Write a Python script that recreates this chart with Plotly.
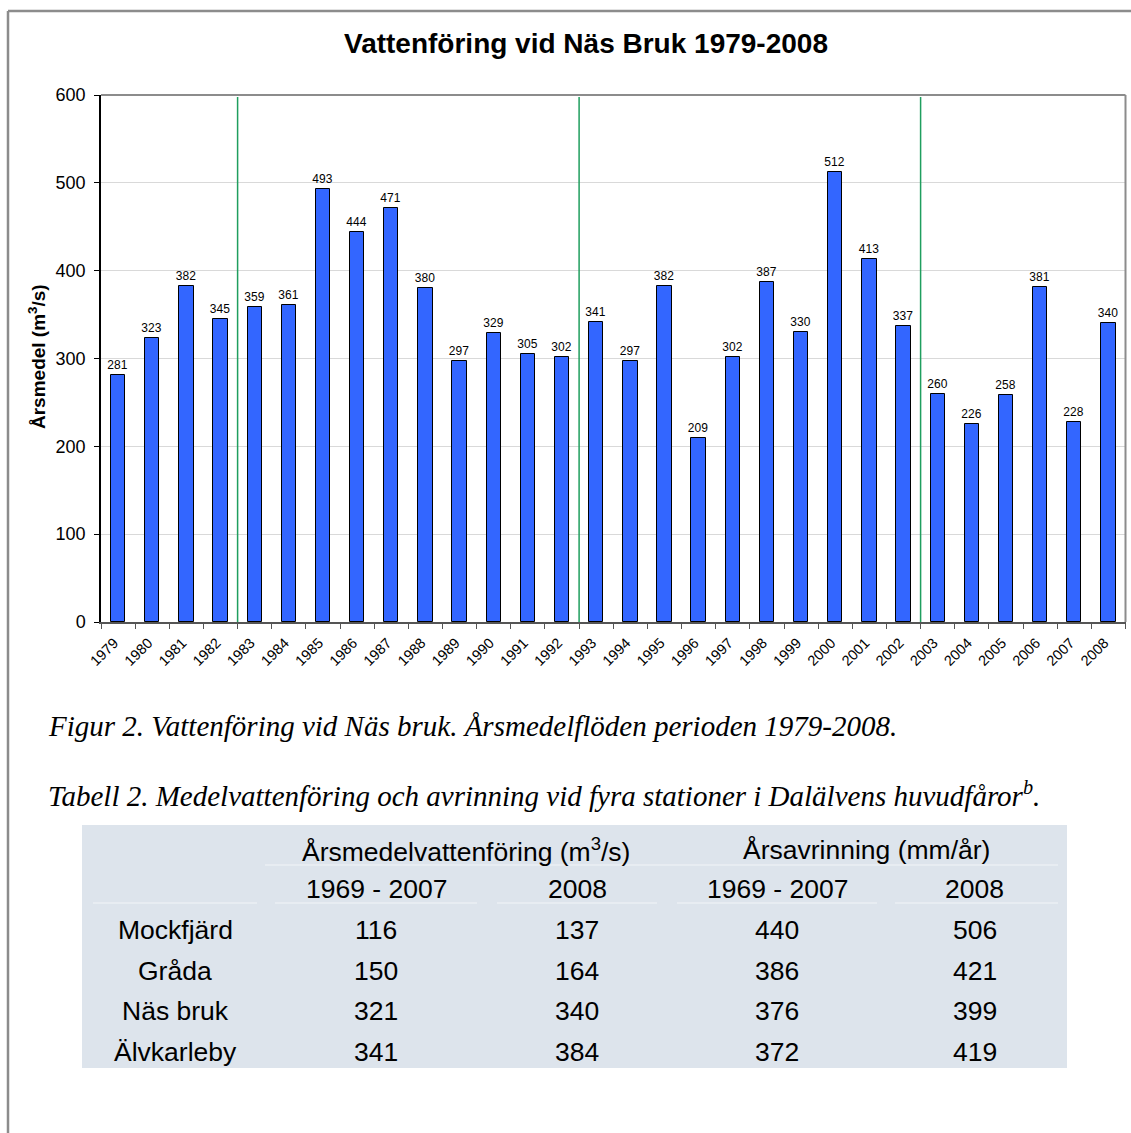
import plotly.graph_objects as go

# ---------------- data ----------------
years = list(range(1979, 2009))
flow = [281, 323, 382, 345, 359, 361, 493, 444, 471, 380,
        297, 329, 305, 302, 341, 297, 382, 209, 302, 387,
        330, 512, 413, 337, 260, 226, 258, 381, 228, 340]
period_starts = [1983, 1993, 2003]

title = "Vattenföring vid Näs Bruk 1979-2008"
ytitle = "Årsmedel (m<sup>3</sup>/s)"
y_ticks = [0, 100, 200, 300, 400, 500, 600]

caption_fig = "Figur 2. Vattenföring vid Näs bruk. Årsmedelflöden perioden 1979-2008."
caption_tab = "Tabell 2. Medelvattenföring och avrinning vid fyra stationer i Dalälvens huvudfåror<sup>b</sup>."

tab_groups = ["Årsmedelvattenföring (m<sup>3</sup>/s)", "Årsavrinning (mm/år)"]
tab_periods = ["1969 - 2007", "2008", "1969 - 2007", "2008"]
stations = ["Mockfjärd", "Gråda", "Näs bruk", "Älvkarleby"]
flow_mean = [116, 150, 321, 341]
flow_2008 = [137, 164, 340, 384]
runoff_mean = [440, 386, 376, 372]
runoff_2008 = [506, 421, 399, 419]

# ---------------- layout helpers ----------------
W, H = 1131, 1133
def px(x):
    return x / W
def py(y):
    return 1 - y / H

SANS = "Arial, Liberation Sans, sans-serif"
SERIF = "Times New Roman, Liberation Serif, serif"

fig = go.Figure()
fig.add_trace(go.Bar(
    x=years, y=flow, width=0.42,
    marker=dict(color="#3366ff", line=dict(color="#000000", width=1)),
    text=[str(v) for v in flow], textposition="outside", constraintext="none",
    textfont=dict(family=SANS, size=12, color="#000000"),
    cliponaxis=False, hoverinfo="skip",
))

shapes = []
# period separators (green)
for yr in period_starts:
    shapes.append(dict(type="line", xref="x", yref="y domain",
                       x0=yr - 0.5, x1=yr - 0.5, y0=0, y1=0.996,
                       line=dict(color="#1f9e5e", width=1.5), layer="above"))
# plot-area frame (top & right)
shapes.append(dict(type="line", xref="x domain", yref="y domain", x0=0, x1=1, y0=1, y1=1,
                   line=dict(color="#8c8c8c", width=2)))
shapes.append(dict(type="line", xref="x domain", yref="y domain", x0=1, x1=1, y0=0, y1=1,
                   line=dict(color="#8c8c8c", width=2)))
# outer frame
shapes.append(dict(type="line", xref="paper", yref="paper", x0=px(8), x1=1, y0=py(11), y1=py(11),
                   line=dict(color="#8c8c8c", width=2.5)))
shapes.append(dict(type="line", xref="paper", yref="paper", x0=px(8), x1=px(8), y0=py(11), y1=0,
                   line=dict(color="#8c8c8c", width=2.5)))
# table background
shapes.append(dict(type="rect", xref="paper", yref="paper", x0=px(82), x1=px(1067),
                   y0=py(1068), y1=py(825), fillcolor="#dde4ec", line=dict(width=0), layer="below"))
# faint separators in table
shapes.append(dict(type="line", xref="paper", yref="paper", x0=px(265), x1=px(1058),
                   y0=py(865), y1=py(865), line=dict(color="#f2f5f8", width=1)))
for a, b in [(93, 257), (275, 477), (497, 657), (677, 877), (895, 1058)]:
    shapes.append(dict(type="line", xref="paper", yref="paper", x0=px(a), x1=px(b),
                       y0=py(903), y1=py(903), line=dict(color="#f2f5f8", width=1)))

ann = []
ann.append(dict(text="<b>" + title + "</b>", x=px(586), y=py(44), xref="paper", yref="paper",
                showarrow=False, font=dict(family=SANS, size=28, color="#000"),
                xanchor="center", yanchor="middle"))
ann.append(dict(text="<b>" + ytitle + "</b>", x=px(37), y=py(357), xref="paper", yref="paper",
                showarrow=False, textangle=-90, font=dict(family=SANS, size=19, color="#000"),
                xanchor="center", yanchor="middle"))
ann.append(dict(text="<i>" + caption_fig + "</i>", x=px(46), y=py(726), xref="paper", yref="paper",
                showarrow=False, font=dict(family=SERIF, size=29, color="#000"),
                xanchor="left", yanchor="middle"))
ann.append(dict(text="<i>" + caption_tab + "</i>", x=px(46), y=py(794), xref="paper", yref="paper",
                showarrow=False, font=dict(family=SERIF, size=29, color="#000"),
                xanchor="left", yanchor="middle"))

tfont = dict(family=SANS, size=26.5, color="#000")
col_x = [175, 376, 577, 777, 975]
group_x = [466, 866]
row_y = [850, 889, 930, 971, 1011, 1052]

for g, gx in zip(tab_groups, group_x):
    ann.append(dict(text=g, x=px(gx), y=py(row_y[0]), xref="paper", yref="paper", showarrow=False,
                    font=tfont, xanchor="center", yanchor="middle"))
for p, cx in zip(tab_periods, col_x[1:]):
    ann.append(dict(text=p, x=px(cx), y=py(row_y[1]), xref="paper", yref="paper", showarrow=False,
                    font=tfont, xanchor="center", yanchor="middle"))
for i, st in enumerate(stations):
    vals = [st, flow_mean[i], flow_2008[i], runoff_mean[i], runoff_2008[i]]
    for v, cx in zip(vals, col_x):
        ann.append(dict(text=str(v), x=px(cx), y=py(row_y[2 + i]), xref="paper", yref="paper",
                        showarrow=False, font=tfont, xanchor="center", yanchor="middle"))

fig.update_layout(
    width=W, height=H, margin=dict(l=0, r=0, t=0, b=0, pad=0, autoexpand=False),
    paper_bgcolor="white", plot_bgcolor="white",
    showlegend=False, bargap=0,
    shapes=shapes, annotations=ann,
    xaxis=dict(domain=[px(101), px(1125.5)], range=[1978.5, 2008.5],
               tickmode="array", tickvals=years, ticktext=[str(y) for y in years],
               tickangle=-45, ticks="", showgrid=False, zeroline=False, automargin=False,
               showline=True, linecolor="#555555", linewidth=1.5,
               ticklabelstandoff=5, ticklabelshift=-4,
               tickfont=dict(family=SANS, size=14.5, color="#000"),
               minor=dict(tickmode="linear", tick0=1978.5, dtick=1, ticks="outside",
                          ticklen=5, tickcolor="#555555", tickwidth=1, showgrid=False),
               fixedrange=True),
    yaxis=dict(domain=[py(622), py(95)], range=[0, 600], tickvals=y_ticks,
               ticks="outside", ticklen=5, tickcolor="#000", showgrid=True, automargin=False,
               gridcolor="#d9d9d9", gridwidth=1, zeroline=False,
               showline=True, linecolor="#000000", linewidth=1.5,
               ticklabelstandoff=5,
               tickfont=dict(family=SANS, size=18, color="#000"), fixedrange=True),
)

fig.write_html(
    "out.html",
    config={"displayModeBar": False},
    post_script="document.documentElement.style.margin='0';document.body.style.margin='0';"
                "document.documentElement.style.overflow='hidden';document.body.style.overflow='hidden';",
)
